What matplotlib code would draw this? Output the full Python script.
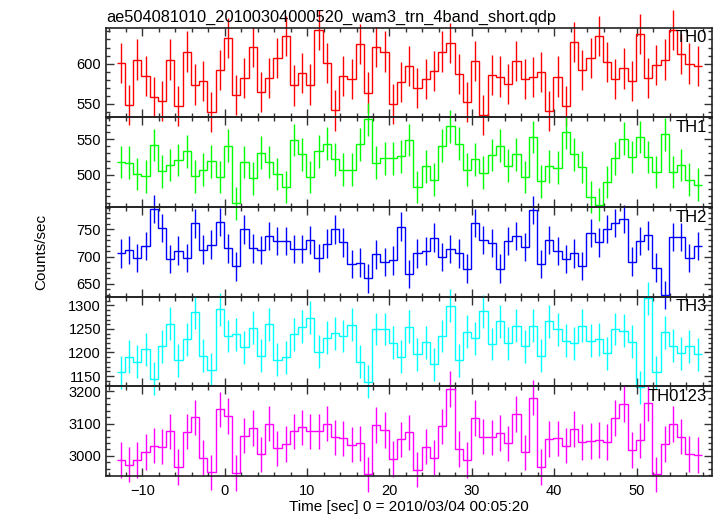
import numpy as np
import matplotlib
matplotlib.use("Agg")
import matplotlib.pyplot as plt
from matplotlib.ticker import MultipleLocator

plt.rcParams['font.family'] = ['Liberation Sans', 'DejaVu Sans']

# light curve, 1 s bins
t_start = -13.1
t_bin = 1.0

th0 = [601, 549, 605, 585, 559, 554, 605, 547, 615, 574, 578, 540, 592, 632, 561, 582, 621, 565,
       582, 607, 634, 573, 588, 574, 642, 601, 542, 585, 581, 624, 564, 621, 615, 550, 577, 597,
       570, 581, 591, 615, 626, 587, 552, 603, 536, 586, 584, 575, 603, 581, 583, 590, 541, 584,
       547, 627, 592, 607, 634, 602, 581, 594, 578, 637, 582, 598, 605, 642, 612, 600, 597]
th1 = [518, 517, 501, 498, 542, 505, 514, 521, 533, 498, 507, 519, 497, 541, 460, 518, 495, 531,
       518, 501, 483, 549, 529, 497, 533, 544, 522, 507, 507, 543, 578, 517, 523, 523, 526, 549,
       483, 512, 493, 541, 568, 544, 507, 522, 503, 528, 541, 513, 529, 497, 553, 491, 512, 510,
       560, 529, 511, 469, 458, 490, 523, 551, 525, 553, 525, 504, 557, 504, 514, 493, 486]
th2 = [706, 712, 698, 720, 787, 753, 696, 711, 698, 761, 713, 722, 763, 715, 682, 750, 715, 712,
       738, 729, 729, 714, 714, 731, 698, 724, 750, 726, 687, 689, 660, 704, 690, 693, 755, 668,
       706, 710, 735, 699, 714, 706, 678, 762, 730, 725, 678, 729, 738, 718, 785, 687, 730, 710,
       696, 706, 683, 743, 726, 751, 762, 769, 691, 729, 739, 680, 629, 736, 736, 698, 720]
th3 = [1158, 1191, 1180, 1207, 1144, 1213, 1261, 1183, 1228, 1286, 1193, 1163, 1292, 1235, 1239,
       1211, 1253, 1193, 1260, 1185, 1190, 1239, 1255, 1274, 1202, 1231, 1241, 1235, 1259, 1180,
       1138, 1250, 1250, 1221, 1191, 1255, 1196, 1222, 1175, 1235, 1299, 1183, 1244, 1230, 1288,
       1218, 1266, 1220, 1257, 1213, 1257, 1193, 1266, 1249, 1225, 1220, 1257, 1225, 1228, 1198,
       1250, 1246, 1223, 1126, 1315, 1158, 1243, 1214, 1198, 1213, 1196]
th0123 = [2987, 2973, 2987, 3012, 3032, 3029, 3076, 2966, 3075, 3119, 2995, 2949, 3144, 3123, 2947,
          3063, 3086, 3005, 3100, 3023, 3037, 3076, 3088, 3076, 3076, 3100, 3057, 3054, 3035, 3039,
          2943, 3095, 3080, 2991, 3051, 3073, 2958, 3029, 2995, 3091, 3207, 3022, 2987, 3117, 3060,
          3057, 3071, 3039, 3129, 3011, 3180, 2965, 3052, 3054, 3032, 3084, 3044, 3046, 3049, 3043,
          3118, 3161, 3019, 3048, 3164, 2943, 3036, 3099, 3060, 3006, 3002]

series = [th0, th1, th2, th3, th0123]
names = ["TH0", "TH1", "TH2", "TH3", "TH0123"]
errors = [25, 23, 26, 35, 55]  # half length of the error bars
colors = ["#ff0000", "#00ff00", "#0000ff", "#00ffff", "#ff00ff"]
ylims = [(533.3, 644.6), (454.7, 580.8), (626.5, 791.0), (1128, 1318.7), (2938, 3215)]
ymajor = [50, 50, 50, 50, 100]
yminor = [10, 10, 10, 10, 20]

fig = plt.figure(figsize=(7.17, 5.16), dpi=100)
left, right, top, bottom = 0.1478, 0.9926, 0.9463, 0.0775
h = (top - bottom) / 5

axes = []
for k in range(5):
    ax = fig.add_axes([left, top - (k + 1) * h, right - left, h])
    axes.append(ax)

for k, ax in enumerate(axes):
    vals = np.array(series[k], dtype=float)
    edges = t_start + t_bin * np.arange(len(vals) + 1)
    centers = 0.5 * (edges[:-1] + edges[1:])
    ax.stairs(vals, edges, baseline=None, color=colors[k], lw=1.0, clip_on=False, zorder=3)
    ax.errorbar(centers, vals, yerr=errors[k], fmt='none', ecolor=colors[k],
                elinewidth=1.0, capsize=0, clip_on=False, zorder=3)
    ax.set_xlim(-14.4, 59.1)
    ax.set_ylim(*ylims[k])
    ax.xaxis.set_major_locator(MultipleLocator(10))
    ax.xaxis.set_minor_locator(MultipleLocator(2))
    ax.yaxis.set_major_locator(MultipleLocator(ymajor[k]))
    ax.yaxis.set_minor_locator(MultipleLocator(yminor[k]))
    ax.tick_params(which='both', direction='in', top=True, right=True, width=1.0,
                   labelsize=10.5, color='#333333')
    ax.tick_params(which='major', length=6)
    ax.tick_params(which='minor', length=3)
    ax.tick_params(axis='x', pad=6)
    if k < 4:
        ax.tick_params(labelbottom=False)
    for sp in ax.spines.values():
        sp.set_linewidth(1.2)
        sp.set_color('#222222')
        sp.set_zorder(5)
    ax.text(0.992, 0.97, names[k], transform=ax.transAxes, ha='right', va='top',
            fontsize=12, zorder=6)
    ax.set_facecolor('none')

fig.text(left, 0.98, "ae504081010_20100304000520_wam3_trn_4band_short.qdp",
         ha='left', va='top', fontsize=11.8)
fig.text(0.058, (top + bottom) / 2, "Counts/sec", rotation=90, ha='center', va='center',
         fontsize=11)
fig.text((left + right) / 2, 0.004, "Time [sec] 0 = 2010/03/04 00:05:20", ha='center',
         va='bottom', fontsize=11)

fig.savefig("out.png", dpi=100)
